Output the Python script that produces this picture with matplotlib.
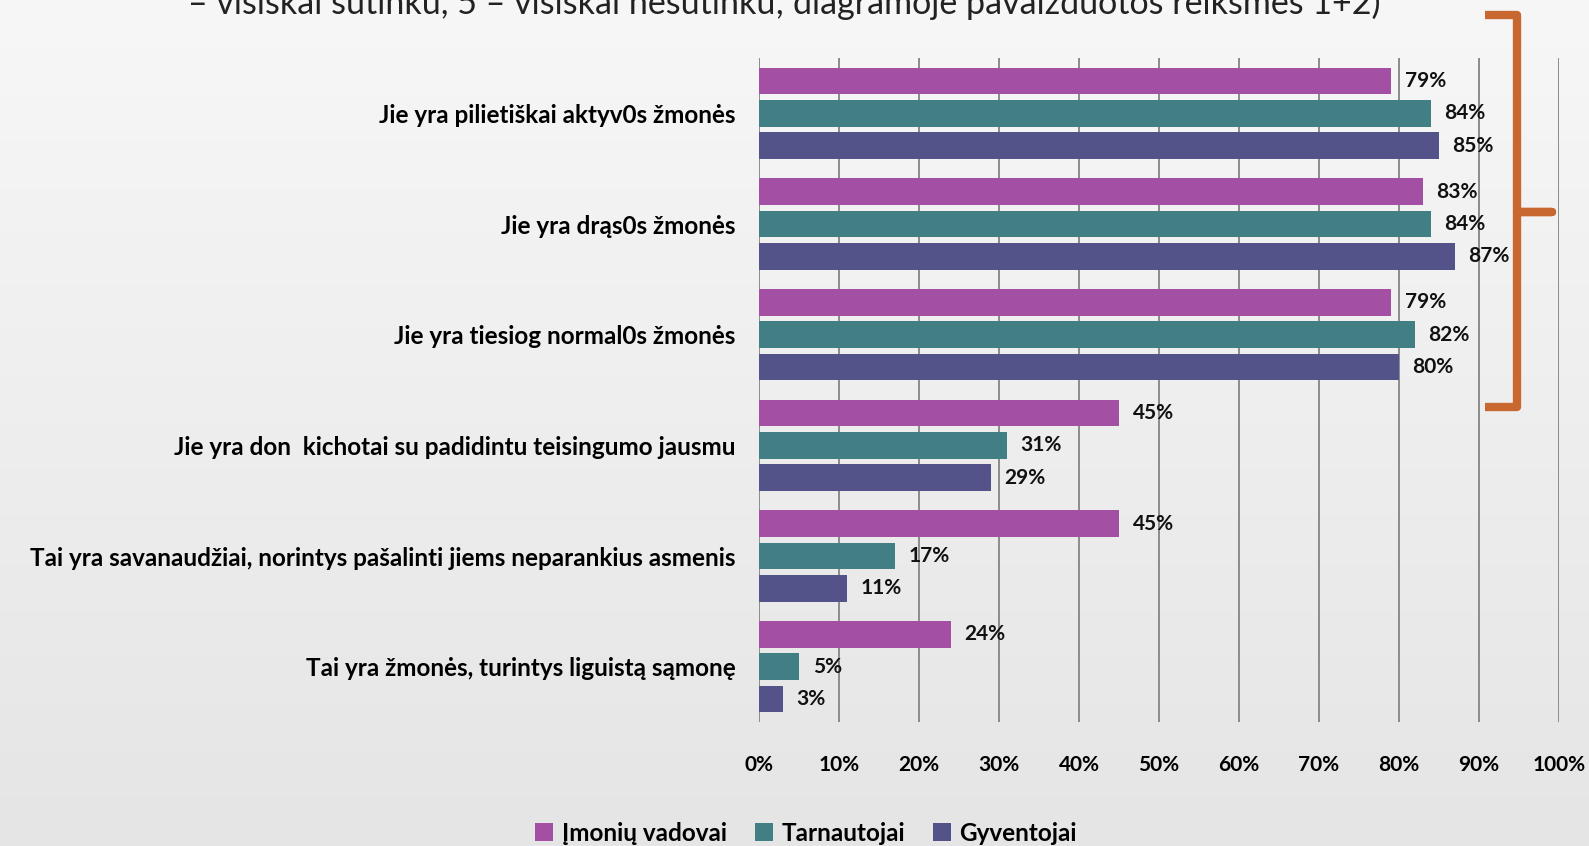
import numpy as np
import matplotlib
matplotlib.use("Agg")
import matplotlib.pyplot as plt
from matplotlib.lines import Line2D

plt.rcParams['font.family'] = ['Lato', 'DejaVu Sans']

# data
categories = [
    'Jie yra pilietiškai aktyv0s žmonės',
    'Jie yra drąs0s žmonės',
    'Jie yra tiesiog normal0s žmonės',
    'Jie yra don  kichotai su padidintu teisingumo jausmu',
    'Tai yra savanaudžiai, norintys pašalinti jiems neparankius asmenis',
    'Tai yra žmonės, turintys liguistą sąmonę',
]
series_names = ['Įmonių vadovai', 'Tarnautojai', 'Gyventojai']
vadovai = [79, 83, 79, 45, 45, 24]
tarnautojai = [84, 84, 82, 31, 17, 5]
gyventojai = [85, 87, 80, 29, 11, 3]
colors = ['#a34fa3', '#427f85', '#53538a']
xticks = [0, 10, 20, 30, 40, 50, 60, 70, 80, 90, 100]
title = '– visiškai sutinku, 5 – visiškai nesutinku; diagramoje pavaizduotos reikšmės 1+2)'

W, H = 1589, 846
fig = plt.figure(figsize=(W / 100, H / 100), dpi=100)

# background gradient
bg = fig.add_axes([0, 0, 1, 1], zorder=0)
grad = np.linspace(0, 1, 256).reshape(-1, 1)
bg.imshow(grad, aspect='auto', cmap=matplotlib.colors.LinearSegmentedColormap.from_list(
    'g', ['#f7f7f7', '#e5e5e5']), extent=[0, 1, 0, 1], origin='upper')
bg.axis('off')

ax = fig.add_axes([759 / W, 124 / H, 800 / W, 664 / H], zorder=1)
ax.patch.set_alpha(0)

y = np.arange(len(categories))
pitch = 0.292
h = 0.24
for i, (vals, name, c) in enumerate(zip([vadovai, tarnautojai, gyventojai], series_names, colors)):
    pos = y + (i - 1) * pitch
    ax.barh(pos, vals, height=h, color=c, label=name, zorder=3)
    for p, v in zip(pos, vals):
        ax.text(v + 1.7, p, f'{v}%', va='center', ha='left', fontsize=15,
                fontweight='bold', color='#111111', zorder=4)

ax.set_xlim(0, 100)
ax.set_ylim(5.5, -0.5)
ax.set_xticks(xticks)
ax.set_xticklabels([f'{t}%' for t in xticks], fontsize=15, fontweight='bold')
ax.set_yticks(y)
ax.set_yticklabels(categories, fontsize=17.5, fontweight='bold')
ax.tick_params(axis='both', length=0)
ax.tick_params(axis='x', pad=24)
ax.tick_params(axis='y', pad=17)
ax.grid(axis='x', color='#8c8c8c', linewidth=1.4, zorder=0)
for s in ax.spines.values():
    s.set_visible(False)

fig.text(784 / W, 1 - 14 / H, title, ha='center', va='baseline', fontsize=24.5, color='#222222')

leg = fig.legend(loc='center', bbox_to_anchor=(806 / W, 1 - 833 / H), ncol=3, frameon=False,
                 handlelength=0.75, handleheight=0.75, handletextpad=0.35,
                 columnspacing=1.15, prop={'weight': 'bold', 'size': 17.5})

# orange bracket
bx = [1485, 1517, 1517, 1552, 1517, 1517, 1485]
by = [15, 15, 212, 212, 212, 407, 407]
fig.add_artist(Line2D([v / W for v in bx], [1 - v / H for v in by], transform=fig.transFigure,
                      color='#c8672f', linewidth=6, solid_joinstyle='round',
                      solid_capstyle='butt', zorder=10))

fig.savefig('out.png', dpi=100)
